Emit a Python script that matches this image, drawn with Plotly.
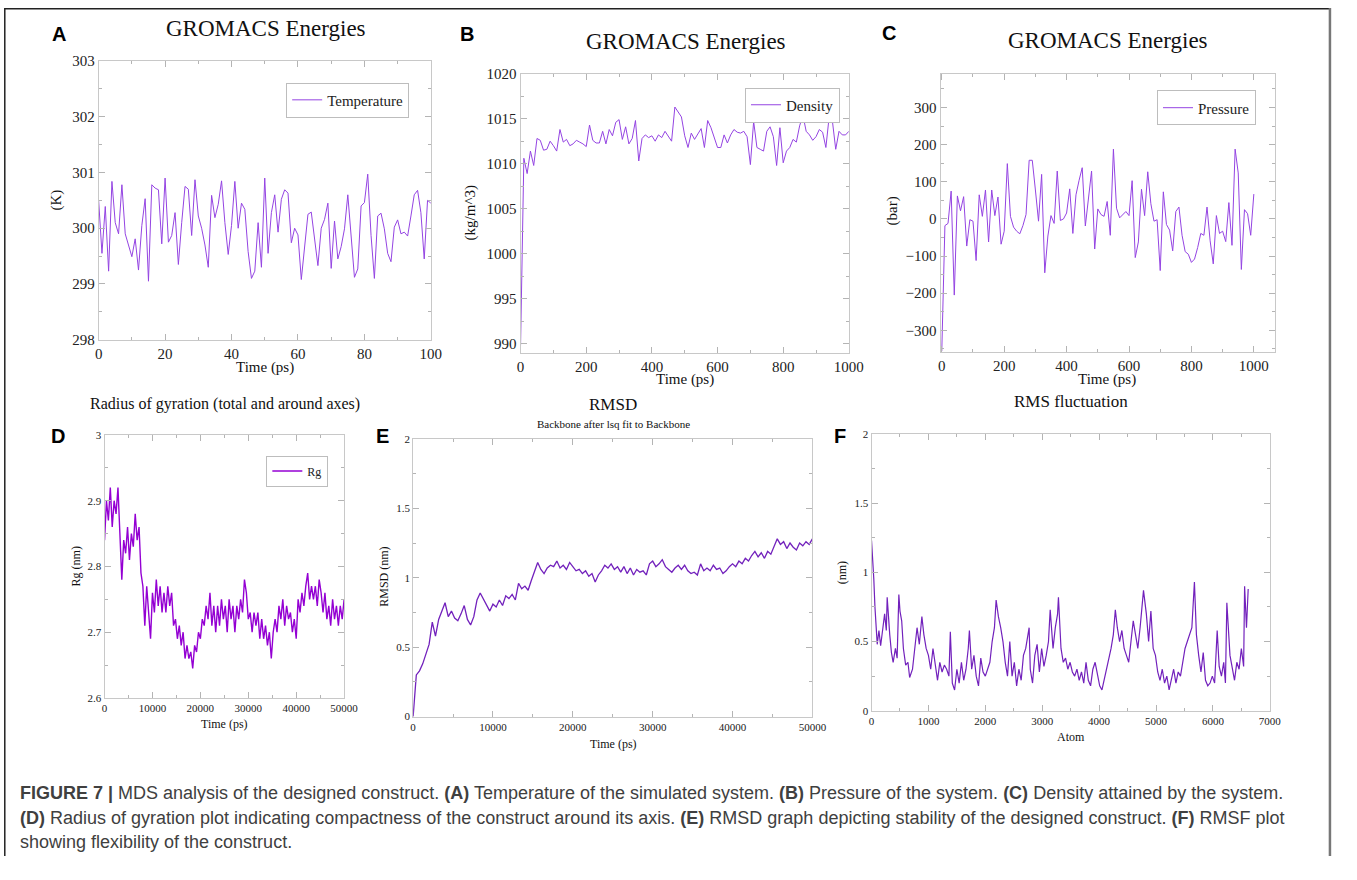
import plotly.graph_objects as go

# ---------------- data ----------------
temp_time = list(range(0, 101))
temp_K = [300.50, 299.55, 300.39, 299.23, 300.84, 300.10, 299.90, 300.78, 299.90, 299.70,
          299.49, 299.81, 299.25, 300.05, 300.53, 299.05, 300.78, 300.72, 300.69, 299.72,
          300.90, 299.75, 299.87, 300.28, 299.35, 300.10, 300.75, 300.70, 299.87, 300.87,
          300.22, 300.00, 299.70, 299.30, 300.59, 300.19, 300.43, 300.85, 300.10, 299.53,
          300.05, 300.84, 300.00, 300.45, 300.34, 299.58, 299.10, 299.23, 300.10, 299.30,
          300.90, 299.55, 300.28, 300.60, 299.93, 300.52, 300.69, 300.63, 299.74, 300.00,
          299.88, 299.08, 299.64, 300.25, 300.29, 299.81, 299.33, 300.00, 300.16, 300.45,
          299.28, 300.13, 299.45, 299.67, 299.99, 300.60, 299.87, 299.12, 299.27, 300.40,
          300.46, 300.97, 299.87, 299.10, 300.22, 300.27, 299.99, 299.55, 299.40, 300.02,
          300.15, 299.90, 299.93, 299.86, 300.22, 300.60, 300.68, 300.28, 299.45, 300.50,
          300.45]

dens_time = list(range(0, 1001, 10))
dens_kgm3 = [989.8, 1010.6, 1008.9, 1011.4, 1009.8, 1012.8, 1012.6, 1011.5, 1011.6, 1012.5,
             1012.0, 1011.4, 1013.8, 1012.4, 1012.7, 1012.0, 1012.2, 1012.6, 1012.4, 1012.2,
             1011.9, 1014.3, 1012.6, 1012.3, 1012.3, 1013.6, 1012.2, 1013.8, 1013.1, 1014.6,
             1014.9, 1012.7, 1014.1, 1012.2, 1012.8, 1014.8, 1010.3, 1012.8, 1013.2, 1012.9,
             1013.1, 1012.5, 1013.2, 1012.9, 1013.6, 1013.0, 1012.5, 1016.3, 1015.8, 1015.2,
             1013.1, 1011.8, 1013.4, 1012.7, 1013.3, 1013.9, 1011.8, 1014.8, 1014.0, 1012.8,
             1011.8, 1011.8, 1013.2, 1012.3, 1013.2, 1013.8, 1013.5, 1013.4, 1013.6, 1013.0,
             1009.9, 1014.7, 1011.8, 1011.6, 1011.4, 1013.6, 1014.1, 1013.0, 1009.8, 1014.0,
             1010.1, 1011.4, 1011.8, 1012.7, 1012.4, 1014.2, 1015.4, 1013.6, 1013.2, 1012.6,
             1013.0, 1013.8, 1013.5, 1011.8, 1015.2, 1014.7, 1011.6, 1013.6, 1013.2, 1013.2,
             1013.6]

pres_time = list(range(0, 1001, 10))
pres_bar = [-356, -18, -12, 75, -205, 62, 22, 60, -73, -2,
            -6, -112, 65, 7, 78, -62, 78, 9, 59, -68,
            -33, 149, 7, -22, -33, -40, -18, 12, 158, 158,
            78, -6, 120, -145, -46, 9, -12, 129, -4, 0,
            16, 81, -39, 65, 104, 138, -19, 56, 129, -81,
            27, 12, 7, 47, -44, 188, 29, 3, 12, 20,
            9, 103, -104, -62, 80, 9, 127, 41, -6, -2,
            -139, 73, -15, -30, -86, 20, 32, -44, -88, -95,
            -117, -108, -77, -39, -44, 32, -59, -121, 9, -39,
            -33, -61, 44, -71, 188, 124, -136, 25, 14, -44,
            67]

rg_time = list(range(0, 50001, 400))
rg_nm = [2.84, 2.90, 2.87, 2.92, 2.86, 2.90, 2.88, 2.92, 2.85, 2.78,
         2.84, 2.82, 2.86, 2.81, 2.85, 2.83, 2.88, 2.84, 2.86, 2.79,
         2.77, 2.71, 2.77, 2.73, 2.69, 2.76, 2.73, 2.78, 2.74, 2.77,
         2.73, 2.76, 2.73, 2.77, 2.74, 2.76, 2.71, 2.72, 2.69, 2.71,
         2.68, 2.70, 2.66, 2.68, 2.66, 2.67, 2.645, 2.68, 2.67, 2.70,
         2.69, 2.72, 2.71, 2.74, 2.72, 2.76, 2.71, 2.74, 2.70, 2.74,
         2.71, 2.75, 2.72, 2.74, 2.70, 2.75, 2.72, 2.74, 2.70, 2.74,
         2.72, 2.75, 2.73, 2.78, 2.76, 2.72, 2.73, 2.70, 2.73, 2.71,
         2.73, 2.69, 2.72, 2.69, 2.71, 2.68, 2.70, 2.66, 2.70, 2.72,
         2.70, 2.74, 2.72, 2.75, 2.71, 2.74, 2.72, 2.73, 2.70, 2.72,
         2.69, 2.75, 2.73, 2.76, 2.74, 2.77, 2.79, 2.75, 2.77, 2.75,
         2.77, 2.74, 2.78, 2.76, 2.73, 2.76, 2.72, 2.74, 2.71, 2.75,
         2.72, 2.74, 2.71, 2.74, 2.72, 2.75]

rmsd_time = list(range(0, 50001, 400))
rmsd_nm = [0.00, 0.30, 0.33, 0.38, 0.45, 0.52, 0.68, 0.58, 0.70, 0.76,
           0.82, 0.72, 0.76, 0.71, 0.69, 0.74, 0.80, 0.70, 0.66, 0.72,
           0.84, 0.89, 0.85, 0.80, 0.76, 0.81, 0.79, 0.84, 0.80, 0.87,
           0.85, 0.88, 0.84, 0.96, 0.92, 0.94, 0.91, 0.98, 1.05, 1.11,
           1.06, 1.03, 1.07, 1.09, 1.08, 1.12, 1.07, 1.09, 1.06, 1.11,
           1.08, 1.05, 1.06, 1.03, 1.05, 1.01, 1.03, 0.97, 1.02, 1.05,
           1.09, 1.07, 1.10, 1.06, 1.08, 1.04, 1.08, 1.03, 1.07, 1.02,
           1.06, 1.04, 1.05, 1.02, 1.10, 1.12, 1.08, 1.10, 1.13, 1.08,
           1.06, 1.04, 1.07, 1.09, 1.06, 1.09, 1.05, 1.03, 1.04, 1.02,
           1.10, 1.05, 1.07, 1.05, 1.09, 1.06, 1.07, 1.03, 1.05, 1.08,
           1.10, 1.08, 1.12, 1.10, 1.14, 1.12, 1.16, 1.19, 1.15, 1.18,
           1.14, 1.19, 1.17, 1.22, 1.28, 1.24, 1.26, 1.21, 1.25, 1.22,
           1.20, 1.25, 1.23, 1.26, 1.24, 1.28]

rmsf_atom = [0, 20, 40, 60, 80, 100, 130, 160, 200, 230, 260, 275, 320, 350, 380, 420, 450, 480, 500, 530,
             560, 600, 640, 670, 720, 760, 800, 840, 885, 920, 960, 1000, 1040, 1080, 1120, 1160, 1200, 1240, 1280, 1320,
             1360, 1385, 1420, 1460, 1500, 1540, 1580, 1620, 1660, 1700, 1720, 1760, 1800, 1840, 1880, 1920, 1960, 2000, 2040, 2080,
             2120, 2160, 2190, 2230, 2270, 2310, 2350, 2390, 2430, 2470, 2510, 2550, 2590, 2630, 2670, 2710, 2770, 2790, 2830, 2870,
             2910, 2950, 2990, 3030, 3070, 3110, 3140, 3190, 3230, 3270, 3285, 3330, 3370, 3410, 3450, 3490, 3530, 3570, 3610, 3650,
             3690, 3730, 3770, 3810, 3850, 3890, 3930, 3970, 4010, 4050, 4090, 4130, 4170, 4210, 4250, 4285, 4320, 4360, 4400, 4440,
             4480, 4520, 4560, 4600, 4640, 4680, 4720, 4760, 4780, 4830, 4870, 4910, 4950, 4990, 5030, 5070, 5110, 5150, 5190, 5230,
             5270, 5310, 5350, 5390, 5430, 5470, 5510, 5550, 5590, 5630, 5675, 5710, 5750, 5790, 5830, 5870, 5910, 5950, 5990, 6030,
             6075, 6110, 6150, 6190, 6220, 6245, 6300, 6340, 6380, 6420, 6460, 6500, 6540, 6557, 6590, 6620]
rmsf_nm = [1.23, 1.10, 0.95, 0.75, 0.55, 0.48, 0.58, 0.47, 0.60, 0.70, 0.58, 0.82, 0.55, 0.42, 0.35, 0.45, 0.38, 0.84, 0.72, 0.65,
           0.45, 0.33, 0.35, 0.24, 0.30, 0.45, 0.60, 0.48, 0.68, 0.55, 0.45, 0.40, 0.30, 0.45, 0.32, 0.22, 0.35, 0.28, 0.33, 0.30,
           0.25, 0.57, 0.20, 0.15, 0.30, 0.20, 0.35, 0.22, 0.30, 0.45, 0.58, 0.30, 0.40, 0.25, 0.18, 0.38, 0.28, 0.25, 0.30, 0.35,
           0.50, 0.60, 0.80, 0.68, 0.60, 0.50, 0.35, 0.25, 0.50, 0.25, 0.35, 0.18, 0.30, 0.22, 0.40, 0.45, 0.60, 0.30, 0.20, 0.40,
           0.48, 0.28, 0.45, 0.32, 0.40, 0.50, 0.73, 0.45, 0.60, 0.70, 0.82, 0.45, 0.35, 0.38, 0.30, 0.35, 0.28, 0.25, 0.30, 0.22,
           0.28, 0.20, 0.35, 0.22, 0.18, 0.30, 0.35, 0.25, 0.18, 0.15, 0.22, 0.30, 0.38, 0.45, 0.55, 0.73, 0.60, 0.50, 0.58, 0.45,
           0.40, 0.35, 0.50, 0.65, 0.55, 0.45, 0.60, 0.75, 0.87, 0.70, 0.50, 0.72, 0.45, 0.40, 0.28, 0.22, 0.30, 0.20, 0.25, 0.15,
           0.22, 0.30, 0.20, 0.28, 0.25, 0.35, 0.45, 0.50, 0.55, 0.60, 0.93, 0.55, 0.40, 0.28, 0.42, 0.22, 0.18, 0.20, 0.25, 0.20,
           0.58, 0.32, 0.25, 0.35, 0.20, 0.78, 0.40, 0.30, 0.22, 0.35, 0.30, 0.45, 0.32, 0.90, 0.60, 0.88]

# ---------------- styling ----------------
# The page keeps the browser's default 8px body margin, so the figure is
# sized so that figure + margins fills the 1357x880 window exactly.
PAGE_W, PAGE_H, BODY_M = 1357, 880, 8
W, H = PAGE_W - 2 * BODY_M, PAGE_H - 2 * BODY_M
SERIF = "Liberation Serif"
SANS = "Liberation Sans"
C_THIN = "#9444e2"
C_VIOLET = "#9400d3"
C_INDIGO = "#7221bc"
FRAME = "#c8c8c8"
TICK = "#b4b4b4"


def fx(x):
    # page pixel -> paper fraction
    return (x - BODY_M) / W


def fy(y):
    return 1 - (y - BODY_M) / H


def axis(domain, rng, dtick, minor, fsize, anchor, tickvals=None):
    d = dict(domain=domain, range=rng, anchor=anchor, showgrid=False, zeroline=False,
             showline=True, linecolor=FRAME, linewidth=1, mirror="ticks",
             ticks="inside", ticklen=6, tickcolor=TICK, tickwidth=1,
             tickfont=dict(family=SERIF, size=fsize, color="#222"),
             minor=dict(ticks="inside", ticklen=3, tickcolor=TICK, dtick=minor, showgrid=False))
    if dtick >= 1:
        d["tickformat"] = "d"
    if tickvals is not None:
        d["tickmode"] = "array"
        d["tickvals"] = tickvals
    else:
        d["dtick"] = dtick
        d["tick0"] = 0
    return d


fig = go.Figure()

fig.add_trace(go.Scatter(x=temp_time, y=temp_K, mode="lines", name="Temperature",
                         line=dict(color=C_THIN, width=1), xaxis="x", yaxis="y", legend="legend"))
fig.add_trace(go.Scatter(x=dens_time, y=dens_kgm3, mode="lines", name="Density",
                         line=dict(color=C_THIN, width=1), xaxis="x2", yaxis="y2", legend="legend2"))
fig.add_trace(go.Scatter(x=pres_time, y=pres_bar, mode="lines", name="Pressure",
                         line=dict(color=C_THIN, width=1), xaxis="x3", yaxis="y3", legend="legend3"))
fig.add_trace(go.Scatter(x=rg_time, y=rg_nm, mode="lines", name="Rg",
                         line=dict(color=C_VIOLET, width=1.4), xaxis="x4", yaxis="y4", legend="legend4"))
fig.add_trace(go.Scatter(x=rmsd_time, y=rmsd_nm, mode="lines", name="RMSD", showlegend=False,
                         line=dict(color=C_INDIGO, width=1.3), xaxis="x5", yaxis="y5"))
fig.add_trace(go.Scatter(x=rmsf_atom, y=rmsf_nm, mode="lines", name="RMSF", showlegend=False,
                         line=dict(color=C_INDIGO, width=1.2), xaxis="x6", yaxis="y6"))

layout = dict(
    width=W, height=H, margin=dict(l=0, r=0, t=0, b=0),
    paper_bgcolor="white", plot_bgcolor="white", showlegend=True,
    xaxis=axis([fx(104), fx(441)], [0, 100], 20, 10, 15, "y"),
    yaxis=axis([fy(346), fy(62)], [298, 303], 1, 0.5, 15, "x"),
    xaxis2=axis([fx(532), fx(865)], [0, 1000], 200, 100, 15, "y2"),
    yaxis2=axis([fy(359), fy(75)], [989, 1020], 5, 2.5, 15, "x2"),
    xaxis3=axis([fx(958), fx(1297)], [-4, 1067], 200, 100, 15, "y3",
                tickvals=[0, 200, 400, 600, 800, 1000]),
    yaxis3=axis([fy(358), fy(75)], [-357, 391], 100, 50, 15, "x3",
                tickvals=[-300, -200, -100, 0, 100, 200, 300]),
    xaxis4=axis([fx(110), fx(353)], [0, 50000], 10000, 5000, 11, "y4"),
    yaxis4=axis([fy(711), fy(443)], [2.6, 3.0], 0.1, 0.05, 11, "x4"),
    xaxis5=axis([fx(423), fx(828)], [0, 50000], 10000, 5000, 11, "y5"),
    yaxis5=axis([fy(730), fy(447)], [0, 2], 0.5, 0.25, 11, "x5"),
    xaxis6=axis([fx(888), fx(1292)], [0, 7000], 1000, 500, 11, "y6"),
    yaxis6=axis([fy(724), fy(442)], [0, 2], 0.5, 0.25, 11, "x6"),
)

leg_common = dict(xanchor="right", yanchor="top", bgcolor="white", bordercolor="#bdbdbd",
                  borderwidth=1, itemwidth=30)
layout["legend"] = dict(x=fx(419), y=fy(84), font=dict(family=SERIF, size=15, color="#222"), **leg_common)
layout["legend2"] = dict(x=fx(856), y=fy(89), font=dict(family=SERIF, size=15, color="#222"), **leg_common)
layout["legend3"] = dict(x=fx(1278), y=fy(92), font=dict(family=SERIF, size=15, color="#222"), **leg_common)
layout["legend4"] = dict(x=fx(337), y=fy(464), font=dict(family=SERIF, size=12, color="#222"), **leg_common)

fig.update_layout(**layout)

ann = []


def text(x, y, s, size, family=SERIF, angle=0, xanchor="center", color="#111"):
    ann.append(dict(x=fx(x), y=fy(y), xref="paper", yref="paper", text=s, showarrow=False,
                    xanchor=xanchor, yanchor="middle", textangle=angle,
                    font=dict(family=family, size=size, color=color)))


# panel titles
text(274, 29, "GROMACS Energies", 23)
text(700, 42, "GROMACS Energies", 23)
text(1128, 41, "GROMACS Energies", 23)
text(232, 411, "Radius of gyration (total and around axes)", 16)
text(626, 412, "RMSD", 17)
text(626, 432, "Backbone after lsq fit to Backbone", 11)
text(1090, 409, "RMS fluctuation", 17)

# panel letters
for lx, ly, lt in [(64, 34, "A"), (478, 34, "B"), (906, 33, "C"),
                   (63, 444, "D"), (392, 444, "E"), (856, 444, "F")]:
    text(lx, ly, "<b>%s</b>" % lt, 20, family=SANS, color="#000")

# axis titles
text(61, 204, "(K)", 15, angle=-90)
text(273, 374, "Time (ps)", 15)
text(481, 217, "(kg/m^3)", 15, angle=-90)
text(699, 387, "Time (ps)", 15)
text(909, 215, "(bar)", 15, angle=-90)
text(1127, 386, "Time (ps)", 15)
text(82, 577, "Rg (nm)", 12, angle=-90)
text(232, 737, "Time (ps)", 12)
text(394, 588, "RMSD (nm)", 12, angle=-90)
text(626, 758, "Time (ps)", 12)
text(858, 583, "(nm)", 12, angle=-90)
text(1090, 751, "Atom", 12)

# caption
cap_color = "#404040"
cap_lines = [
    "<b>FIGURE 7 |</b> MDS analysis of the designed construct. <b>(A)</b> Temperature of the simulated system. "
    "<b>(B)</b> Pressure of the system. <b>(C)</b> Density attained by the system.",
    "<b>(D)</b> Radius of gyration plot indicating compactness of the construct around its axis. "
    "<b>(E)</b> RMSD graph depicting stability of the designed construct. <b>(F)</b> RMSF plot",
    "showing flexibility of the construct.",
]
for i, s in enumerate(cap_lines):
    text(22, 808 + 25 * i, s, 18, family=SANS, xanchor="left", color=cap_color)

fig.update_layout(annotations=ann)

# outer frame of the figure
fig.update_layout(shapes=[
    dict(type="line", xref="paper", yref="paper", x0=fx(8.8), x1=fx(1354), y0=1 - 0.8 / H, y1=1 - 0.8 / H,
         line=dict(color="#222", width=1.5)),
    dict(type="line", xref="paper", yref="paper", x0=fx(8.8), x1=fx(8.8), y0=1, y1=0,
         line=dict(color="#222", width=1.5)),
    dict(type="line", xref="paper", yref="paper", x0=fx(1353), x1=fx(1353), y0=1, y1=0,
         line=dict(color="#777", width=2.5)),
])

fig.write_html("out.html")
